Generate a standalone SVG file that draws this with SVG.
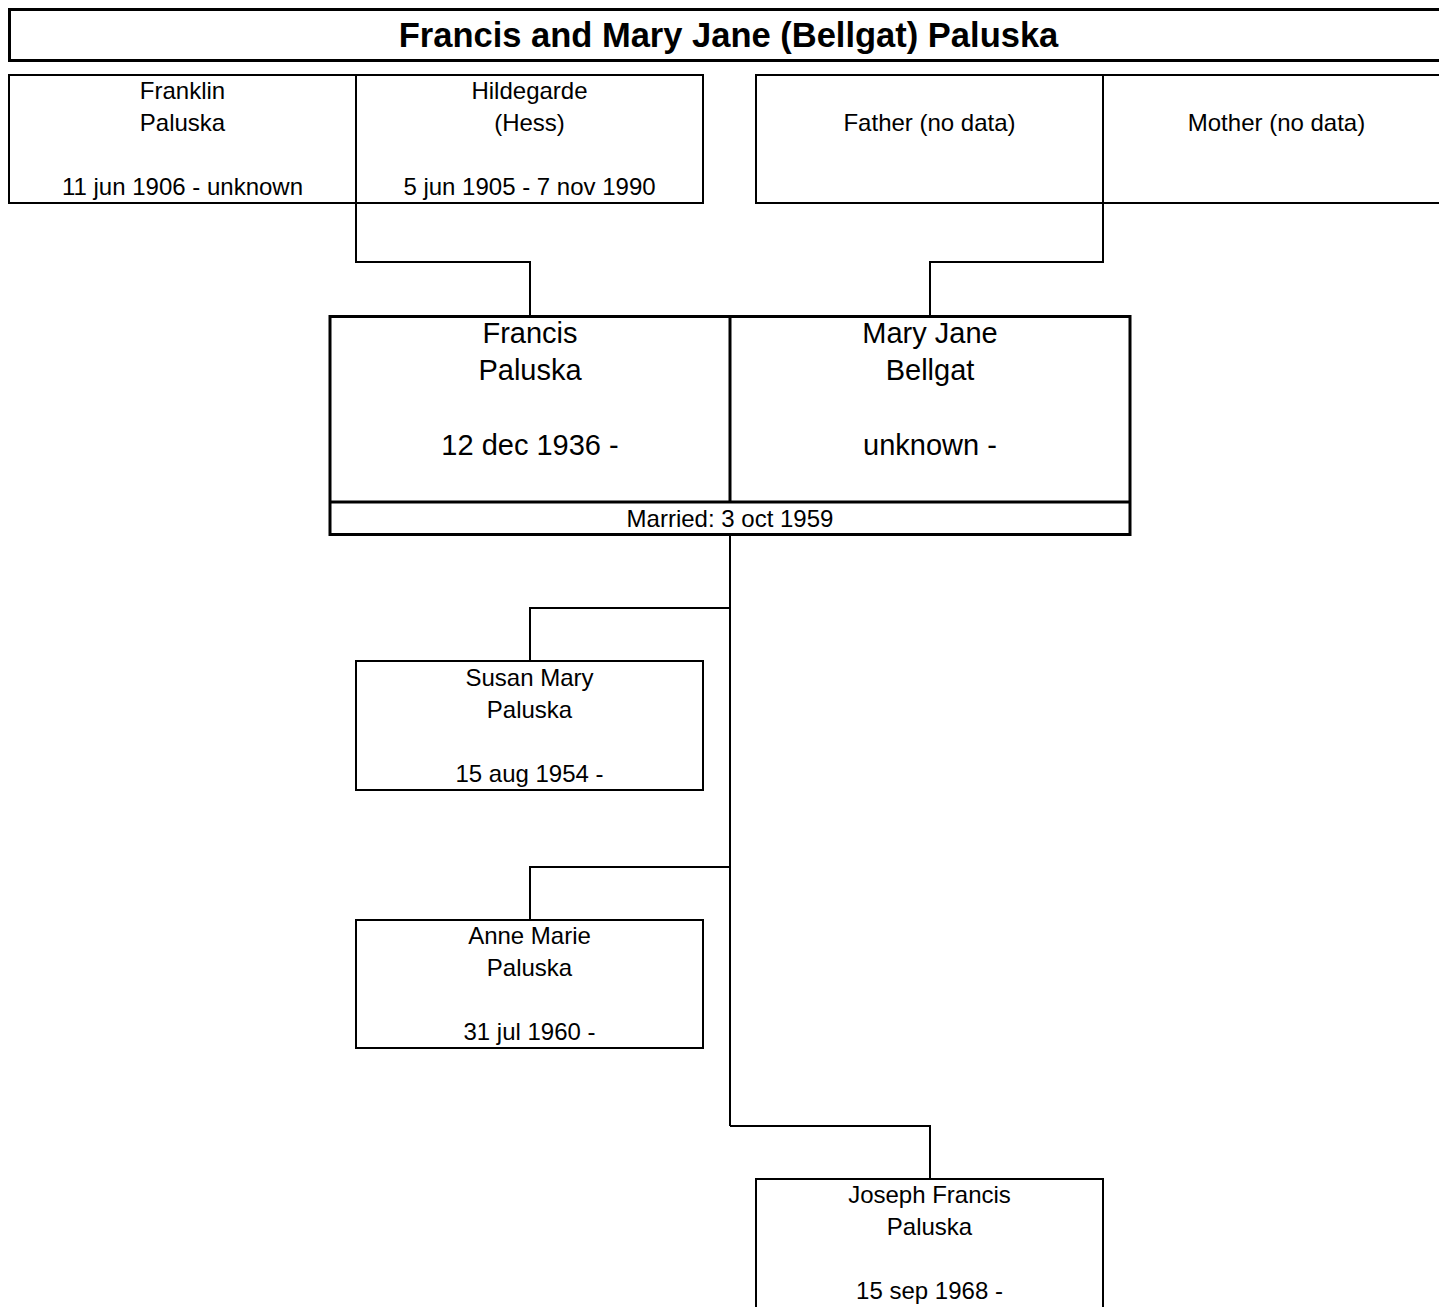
<svg xmlns="http://www.w3.org/2000/svg" width="1439" height="1307" viewBox="0 0 1439 1307">
<style>
text{font-family:"Liberation Sans",Arial,sans-serif;fill:#000;text-anchor:middle}
.t{font-size:34.5px;font-weight:bold}
.s{font-size:24px}
.b{font-size:29px}
.box{fill:#fff;stroke:#000;stroke-width:2}
.thick{fill:#fff;stroke:#000;stroke-width:3}
.conn{fill:none;stroke:#000;stroke-width:2}
</style>
<rect width="1439" height="1307" fill="#fff"/>
<g id="title">
<rect class="thick" x="9.5" y="9.5" width="1440" height="51"/>
<text class="t" x="728.5" y="47">Francis and Mary Jane (Bellgat) Paluska</text>
</g>
<g id="connectors">
<polyline class="conn" points="356,203 356,262 530,262 530,316"/>
<polyline class="conn" points="1103,203 1103,262 930,262 930,316"/>
<polyline class="conn" points="730,535 730,1126"/>
<polyline class="conn" points="730,608 530,608 530,661"/>
<polyline class="conn" points="730,867 530,867 530,920"/>
<polyline class="conn" points="730,1126 930,1126 930,1179"/>
</g>
<g id="franklin">
<rect class="box" x="9" y="75" width="347" height="128"/>
<text class="s" x="182.5" y="98.5">Franklin</text>
<text class="s" x="182.5" y="130.5">Paluska</text>
<text class="s" x="182.5" y="194.5">11 jun 1906 - unknown</text>
</g>
<g id="hildegarde">
<rect class="box" x="356" y="75" width="347" height="128"/>
<text class="s" x="529.5" y="98.5">Hildegarde</text>
<text class="s" x="529.5" y="130.5">(Hess)</text>
<text class="s" x="529.5" y="194.5">5 jun 1905 - 7 nov 1990</text>
</g>
<g id="father">
<rect class="box" x="756" y="75" width="347" height="128"/>
<text class="s" x="929.5" y="130.5">Father (no data)</text>
</g>
<g id="mother">
<rect class="box" x="1103" y="75" width="347" height="128"/>
<text class="s" x="1276.5" y="130.5">Mother (no data)</text>
</g>
<g id="couple">
<rect class="thick" x="330" y="316.5" width="800" height="218"/>
<line x1="730" y1="316.5" x2="730" y2="502" stroke="#000" stroke-width="3"/>
<line x1="330" y1="502" x2="1130" y2="502" stroke="#000" stroke-width="3"/>
<text class="b" x="530" y="343">Francis</text>
<text class="b" x="530" y="380">Paluska</text>
<text class="b" x="530" y="455">12 dec 1936 -</text>
<text class="b" x="930" y="343">Mary Jane</text>
<text class="b" x="930" y="380">Bellgat</text>
<text class="b" x="930" y="455">unknown -</text>
<text class="s" x="730" y="526.5">Married: 3 oct 1959</text>
</g>
<g id="susan">
<rect class="box" x="356" y="661" width="347" height="129"/>
<text class="s" x="529.5" y="685.5">Susan Mary</text>
<text class="s" x="529.5" y="717.5">Paluska</text>
<text class="s" x="529.5" y="781.5">15 aug 1954 -</text>
</g>
<g id="anne">
<rect class="box" x="356" y="920" width="347" height="128"/>
<text class="s" x="529.5" y="943.5">Anne Marie</text>
<text class="s" x="529.5" y="975.5">Paluska</text>
<text class="s" x="529.5" y="1039.5">31 jul 1960 -</text>
</g>
<g id="joseph">
<rect class="box" x="756" y="1179" width="347" height="130"/>
<text class="s" x="929.5" y="1202.5">Joseph Francis</text>
<text class="s" x="929.5" y="1234.5">Paluska</text>
<text class="s" x="929.5" y="1298.5">15 sep 1968 -</text>
</g>
</svg>
